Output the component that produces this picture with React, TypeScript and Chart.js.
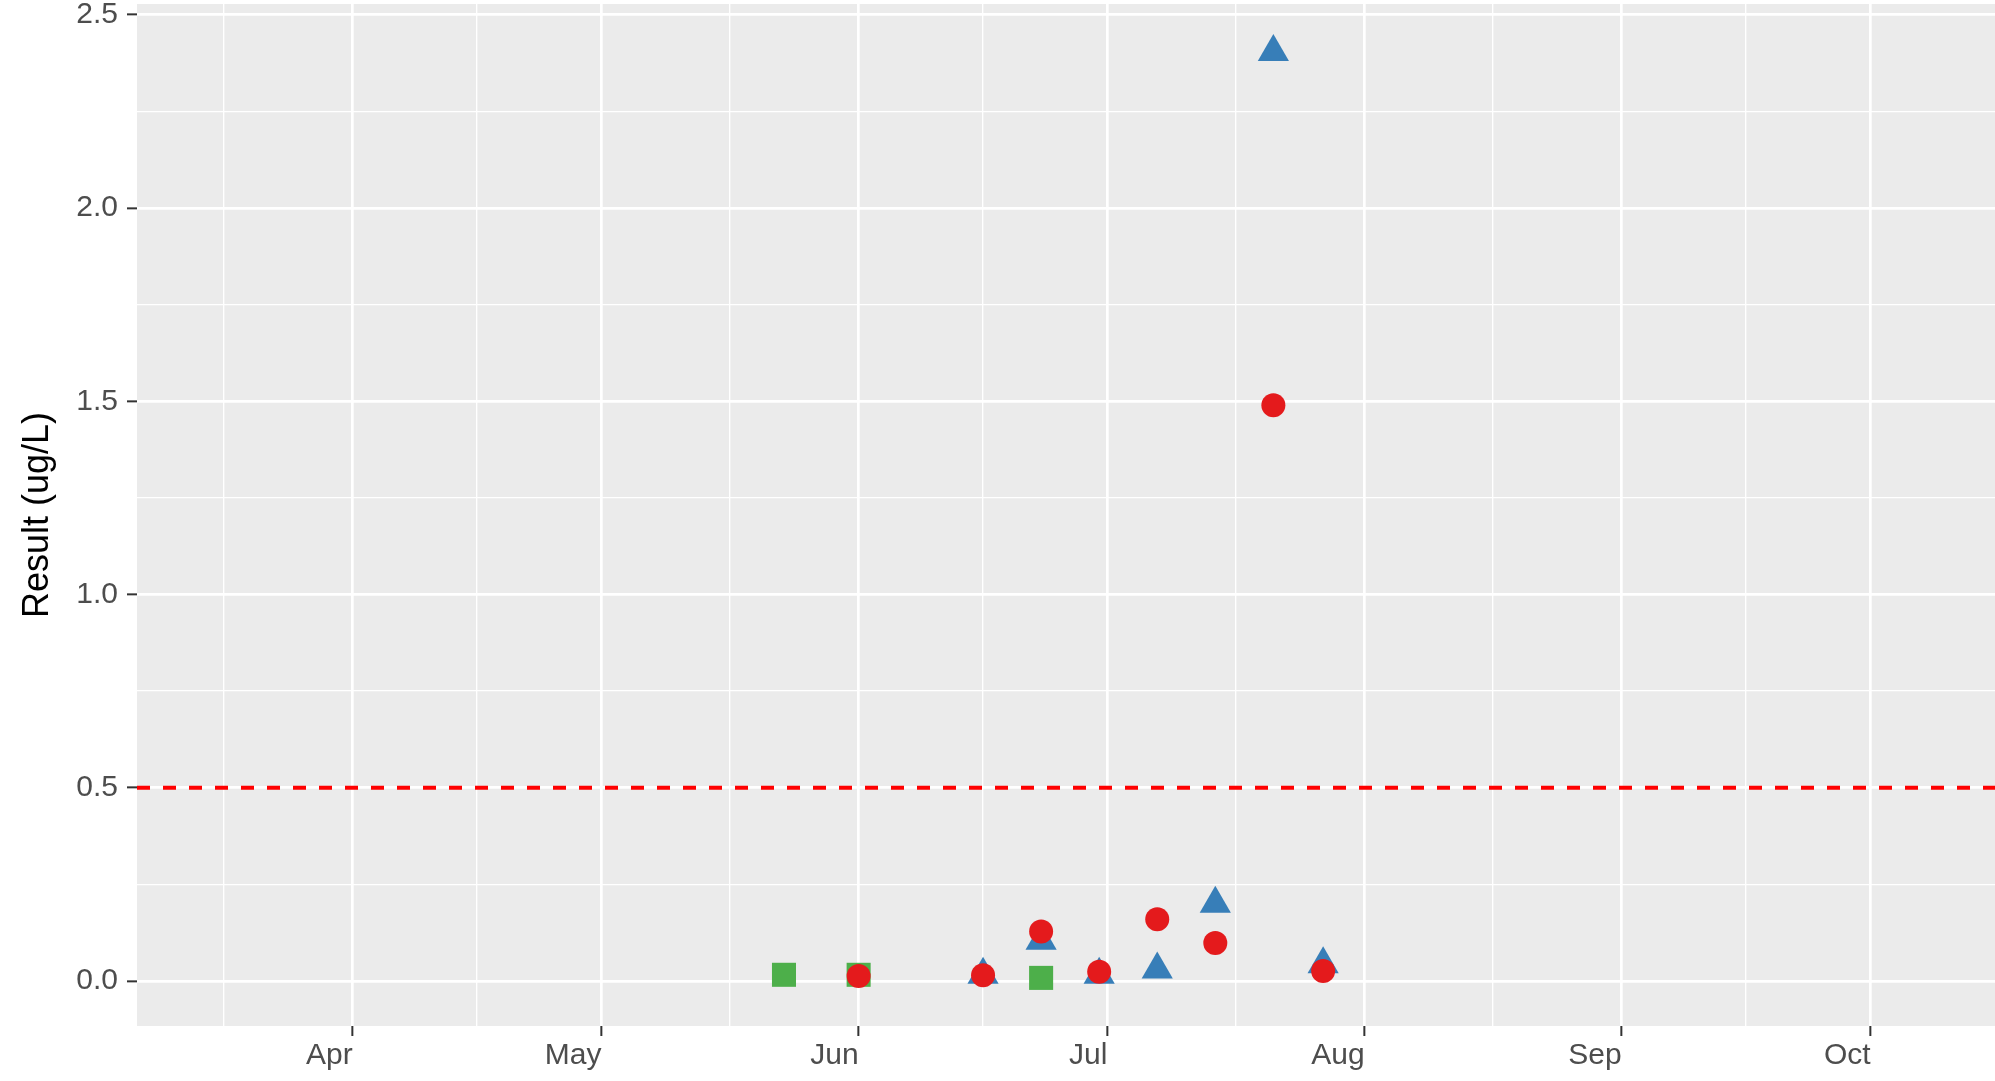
import React, { useEffect, useRef } from "react";
import { Chart, registerables } from "chart.js";

Chart.register(...registerables);

// ---- Data ----
const redDates = ["2021-06-01", "2021-06-16", "2021-06-23", "2021-06-30", "2021-07-07", "2021-07-14", "2021-07-21", "2021-07-27"];
const redValues = [0.013, 0.015, 0.128, 0.024, 0.16, 0.098, 1.49, 0.026];

const blueDates = ["2021-06-16", "2021-06-23", "2021-06-30", "2021-07-07", "2021-07-14", "2021-07-21", "2021-07-27"];
const blueValues = [0.016, 0.104, 0.016, 0.03, 0.2, 2.404, 0.043];

const greenDates = ["2021-05-23", "2021-06-01", "2021-06-23"];
const greenValues = [0.016, 0.016, 0.008];

const thresholdValue = 0.5;

const xLimitDates = ["2021-03-06", "2021-10-16"];
const yLimits = [-0.1165, 2.528];

const monthTickDates = ["2021-04-01", "2021-05-01", "2021-06-01", "2021-07-01", "2021-08-01", "2021-09-01", "2021-10-01"];
const monthTickLabels = ["Apr", "May", "Jun", "Jul", "Aug", "Sep", "Oct"];
const monthBoundaryDates = ["2021-03-01", "2021-04-01", "2021-05-01", "2021-06-01", "2021-07-01", "2021-08-01", "2021-09-01", "2021-10-01", "2021-11-01"];

const yTickValues = [0, 0.5, 1, 1.5, 2, 2.5];
const yTickLabels = ["0.0", "0.5", "1.0", "1.5", "2.0", "2.5"];
const yAxisTitle = "Result (ug/L)";

// ---- helpers ----
function toDay(d: string): number {
  const [y, m, dd] = d.split("-").map(Number);
  return (Date.UTC(y, m - 1, dd) - Date.UTC(y, 0, 1)) / 86400000;
}

const FONT = "'Liberation Sans', Arial, Helvetica, sans-serif";

export default function App() {
  const canvasRef = useRef<HTMLCanvasElement | null>(null);

  useEffect(() => {
    document.body.style.margin = "0";
    const canvas = canvasRef.current;
    if (!canvas) return;

    const xMin = toDay(xLimitDates[0]);
    const xMax = toDay(xLimitDates[1]);
    const majorX = monthTickDates.map(toDay);
    const bounds = monthBoundaryDates.map(toDay);
    const minorX: number[] = [];
    for (let i = 0; i < bounds.length - 1; i++) {
      const mid = (bounds[i] + bounds[i + 1]) / 2;
      if (mid > xMin && mid < xMax) minorX.push(mid);
    }
    const allX = [...majorX, ...minorX].sort((a, b) => a - b);

    const minorY: number[] = [];
    for (let i = 0; i < yTickValues.length - 1; i++) {
      const mid = (yTickValues[i] + yTickValues[i + 1]) / 2;
      if (mid > yLimits[0] && mid < yLimits[1]) minorY.push(mid);
    }
    const allY = [...yTickValues, ...minorY].sort((a, b) => a - b);

    const isIn = (arr: number[], v: number) => arr.some((a) => Math.abs(a - v) < 1e-6);

    const toPoints = (dates: string[], vals: number[]) =>
      dates.map((d, i) => ({ x: toDay(d), y: vals[i] }));

    const panelBg = {
      id: "panelBg",
      beforeDraw(chart: any) {
        const { ctx, chartArea } = chart;
        const { left, top, right, bottom } = chartArea;
        ctx.save();
        ctx.fillStyle = "#EBEBEB";
        ctx.fillRect(left, top, right - left, bottom - top);
        ctx.restore();
      },
    };

    const chart = new Chart(canvas, {
      type: "scatter",
      data: {
        datasets: [
          {
            label: "red",
            data: toPoints(redDates, redValues),
            pointStyle: "circle",
            pointRadius: 12,
            pointBackgroundColor: "#E41A1C",
            backgroundColor: "#E41A1C",
            pointBorderWidth: 0,
            borderWidth: 0,
            order: 0,
          },
          {
            label: "blue",
            data: toPoints(blueDates, blueValues),
            pointStyle: "triangle",
            pointRadius: 18,
            pointBackgroundColor: "#377EB8",
            backgroundColor: "#377EB8",
            pointBorderWidth: 0,
            borderWidth: 0,
            order: 1,
          },
          {
            label: "green",
            data: toPoints(greenDates, greenValues),
            pointStyle: "rect",
            pointRadius: 17,
            pointBackgroundColor: "#4DAF4A",
            backgroundColor: "#4DAF4A",
            pointBorderWidth: 0,
            borderWidth: 0,
            order: 2,
          },
          {
            label: "threshold",
            data: [
              { x: xMin, y: thresholdValue },
              { x: xMax, y: thresholdValue },
            ],
            showLine: true,
            pointRadius: 0,
            borderColor: "#FF0000",
            borderWidth: 4,
            borderDash: [13, 13],
            order: 3,
          } as any,
        ],
      },
      options: {
        responsive: false,
        animation: false,
        devicePixelRatio: 1,
        events: [],
        layout: { autoPadding: false, padding: { top: 4, right: 0, bottom: 0, left: 0 } },
        plugins: {
          legend: { display: false },
          tooltip: { enabled: false },
        },
        scales: {
          x: {
            type: "linear",
            min: xMin,
            max: xMax,
            bounds: "data",
            offset: false,
            border: { display: false },
            grid: {
              color: "#FFFFFF",
              lineWidth: (ctx: any) => (isIn(majorX, ctx.tick?.value) ? 2.7 : 1.35),
              tickColor: (ctx: any) => (isIn(majorX, ctx.tick?.value) ? "#333333" : "rgba(0,0,0,0)"),
              tickLength: 10,
              tickWidth: 2,
              drawTicks: true,
            },
            ticks: {
              autoSkip: false,
              maxRotation: 0,
              minRotation: 0,
              align: "end",
              padding: 2,
              color: "#4D4D4D",
              font: { family: FONT, size: 30 },
              callback: (value: any) => {
                const i = majorX.findIndex((v) => Math.abs(v - Number(value)) < 1e-6);
                return i >= 0 ? monthTickLabels[i] : "";
              },
            },
            afterBuildTicks: (scale: any) => {
              scale.ticks = allX.map((v) => ({ value: v }));
            },
            afterFit: (scale: any) => {
              scale.height = 55;
              scale.paddingLeft = 0;
              scale.paddingRight = 0;
              scale.paddingTop = 0;
              scale.paddingBottom = 0;
            },
          } as any,
          y: {
            type: "linear",
            min: yLimits[0],
            max: yLimits[1],
            bounds: "data",
            border: { display: false },
            grid: {
              color: "#FFFFFF",
              lineWidth: (ctx: any) => (isIn(yTickValues, ctx.tick?.value) ? 2.7 : 1.35),
              tickColor: (ctx: any) => (isIn(yTickValues, ctx.tick?.value) ? "#333333" : "rgba(0,0,0,0)"),
              tickLength: 10,
              tickWidth: 2,
              drawTicks: true,
            },
            ticks: {
              autoSkip: false,
              padding: 9,
              color: "#4D4D4D",
              font: { family: FONT, size: 30 },
              callback: (value: any) => {
                const i = yTickValues.findIndex((v) => Math.abs(v - Number(value)) < 1e-6);
                return i >= 0 ? yTickLabels[i] : "";
              },
            },
            title: {
              display: true,
              text: yAxisTitle,
              color: "#000000",
              font: { family: FONT, size: 36 },
              padding: { top: 16, bottom: 0 },
            },
            afterBuildTicks: (scale: any) => {
              scale.ticks = allY.map((v) => ({ value: v }));
            },
            afterFit: (scale: any) => {
              scale.width = 137;
              scale.paddingLeft = 0;
              scale.paddingRight = 0;
              scale.paddingTop = 0;
              scale.paddingBottom = 0;
            },
          } as any,
        },
      },
      plugins: [panelBg],
    } as any);

    return () => {
      chart.destroy();
    };
  }, []);

  return (
    <div
      style={{
        position: "fixed",
        left: 0,
        top: 0,
        width: 1995,
        height: 1081,
        background: "#FFFFFF",
        overflow: "hidden",
      }}
    >
      <canvas ref={canvasRef} width={1995} height={1081} style={{ display: "block", width: 1995, height: 1081 }} />
    </div>
  );
}
